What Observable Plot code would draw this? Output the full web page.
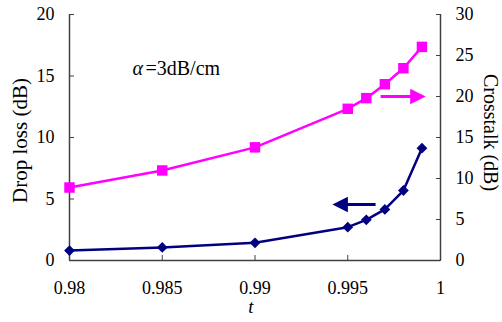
<!DOCTYPE html>
<html>
<head>
<meta charset="utf-8">
<script src="https://cdn.jsdelivr.net/npm/d3@7"></script>
<script src="https://cdn.jsdelivr.net/npm/@observablehq/plot@0.6"></script>
<style>
  html, body { margin: 0; padding: 0; background: #fff; font-family: "Liberation Serif", serif; }
  svg { display: block; }
  #chart svg text { font-family: "Liberation Serif", serif !important; }
</style>
</head>
<body>
<div id="chart"></div>
<script>
// ---- data ----
const tValues = [0.98, 0.985, 0.99, 0.995, 0.996, 0.997, 0.998, 0.999];
const dropLoss = [0.81, 1.06, 1.44, 2.71, 3.31, 4.15, 5.69, 9.13];      // left axis (dB)
const crosstalk = [8.9, 10.98, 13.8, 18.5, 19.8, 21.5, 23.45, 26.05];   // right axis (dB)
const xTicks = [0.98, 0.985, 0.99, 0.995, 1];
const leftTicks = [0, 5, 10, 15, 20];
const rightTicks = [0, 5, 10, 15, 20, 25, 30];
// annotation arrows: tail t, tip t, value on own axis
const crosstalkArrow = {tail: 0.99677, tip: 0.9992, value: 20};
const dropArrow = {tail: 0.9965, tip: 0.99417, value: 4.55};

const leftMax = 20, rightMax = 30;
const toLeft = v => v * leftMax / rightMax;   // map crosstalk onto the left scale

const dropData = tValues.map((t, i) => ({t, v: dropLoss[i]}));
const xtData = tValues.map((t, i) => ({t, v: toLeft(crosstalk[i])}));

// custom symbols
const diamond = {draw(ctx, size) { const r = Math.sqrt(size / 2);
  ctx.moveTo(0, -r); ctx.lineTo(r, 0); ctx.lineTo(0, r); ctx.lineTo(-r, 0); ctx.closePath(); }};
const headRight = {draw(ctx, size) { const s = Math.sqrt(size);
  ctx.moveTo(0, 0); ctx.lineTo(-s, -s / 2); ctx.lineTo(-s, s / 2); ctx.closePath(); }};
const headLeft = {draw(ctx, size) { const s = Math.sqrt(size);
  ctx.moveTo(0, 0); ctx.lineTo(s, -s / 2); ctx.lineTo(s, s / 2); ctx.closePath(); }};

const pink = "#ff00ff", navy = "#000080", axisColor = "#404040";
const serif = "Liberation Serif";
const headLen = 15.5; // px
const headR = headLen / Math.sqrt(Math.PI);

const chart = Plot.plot({
  width: 502,
  height: 322,
  marginLeft: 69,
  marginRight: 62,
  marginTop: 14,
  marginBottom: 62,
  style: "font-family: 'Liberation Serif', serif; font-size: 18px; color: #000; background: #fff; overflow: visible;",
  x: {domain: [0.98, 1]},
  y: {domain: [0, leftMax]},
  marks: [
    // frame lines (left, right, bottom)
    Plot.ruleX([0.98, 1], {stroke: axisColor, strokeWidth: 1.5}),
    Plot.ruleY([0], {stroke: axisColor, strokeWidth: 1.5}),
    Plot.axisX({ticks: xTicks, tickFormat: d3.format("~g"), tickSize: -5, tickPadding: 26, label: null, stroke: axisColor, fontFamily: serif, fontSize: 18}),
    Plot.axisY({ticks: leftTicks, tickSize: -5, tickPadding: 20, label: null, stroke: axisColor, fontFamily: serif, fontSize: 18}),
    Plot.axisY({anchor: "right", ticks: rightTicks.map(toLeft), tickFormat: d => Math.round(d * rightMax / leftMax),
      tickSize: -5, tickPadding: 20, label: null, stroke: axisColor, fontFamily: serif, fontSize: 18}),
    // series
    Plot.line(xtData, {x: "t", y: "v", stroke: pink, strokeWidth: 2.5}),
    Plot.dot(xtData, {x: "t", y: "v", symbol: "square", r: 5.9, fill: pink, stroke: null}),
    Plot.line(dropData, {x: "t", y: "v", stroke: navy, strokeWidth: 2.5}),
    Plot.dot(dropData, {x: "t", y: "v", symbol: diamond, r: 4.3, fill: navy, stroke: null}),
    // arrows
    Plot.link([crosstalkArrow], {x1: "tail", x2: d => d.tip - 0.0006, y1: d => toLeft(d.value), y2: d => toLeft(d.value), stroke: pink, strokeWidth: 3}),
    Plot.dot([crosstalkArrow], {x: "tip", y: d => toLeft(d.value), symbol: headRight, r: headR, fill: pink, stroke: null}),
    Plot.link([dropArrow], {x1: "tail", x2: d => d.tip + 0.0006, y1: "value", y2: "value", stroke: navy, strokeWidth: 3}),
    Plot.dot([dropArrow], {x: "tip", y: "value", symbol: headLeft, r: headR, fill: navy, stroke: null}),
    // annotation
    Plot.text(["α"], {frameAnchor: "top-left", textAnchor: "start", dx: 63, dy: 46, fontSize: 20, fontStyle: "italic", fontFamily: serif}),
    Plot.text(["=3dB/cm"], {frameAnchor: "top-left", textAnchor: "start", dx: 76, dy: 46, fontSize: 20, fontFamily: serif}),
    // axis titles
    Plot.text(["Drop loss (dB)"], {frameAnchor: "left", textAnchor: "middle", rotate: -90, dx: -49, dy: 3, fontSize: 21, fontFamily: serif}),
    Plot.text(["Crosstalk (dB)"], {frameAnchor: "right", textAnchor: "middle", rotate: 90, dx: 50, dy: -5, fontSize: 20, fontFamily: serif}),
    Plot.text(["t"], {frameAnchor: "bottom", textAnchor: "middle", dx: -4, dy: 52, fontSize: 19, fontStyle: "italic", fontFamily: serif})
  ]
});
document.getElementById("chart").appendChild(chart);
</script>
</body>
</html>
